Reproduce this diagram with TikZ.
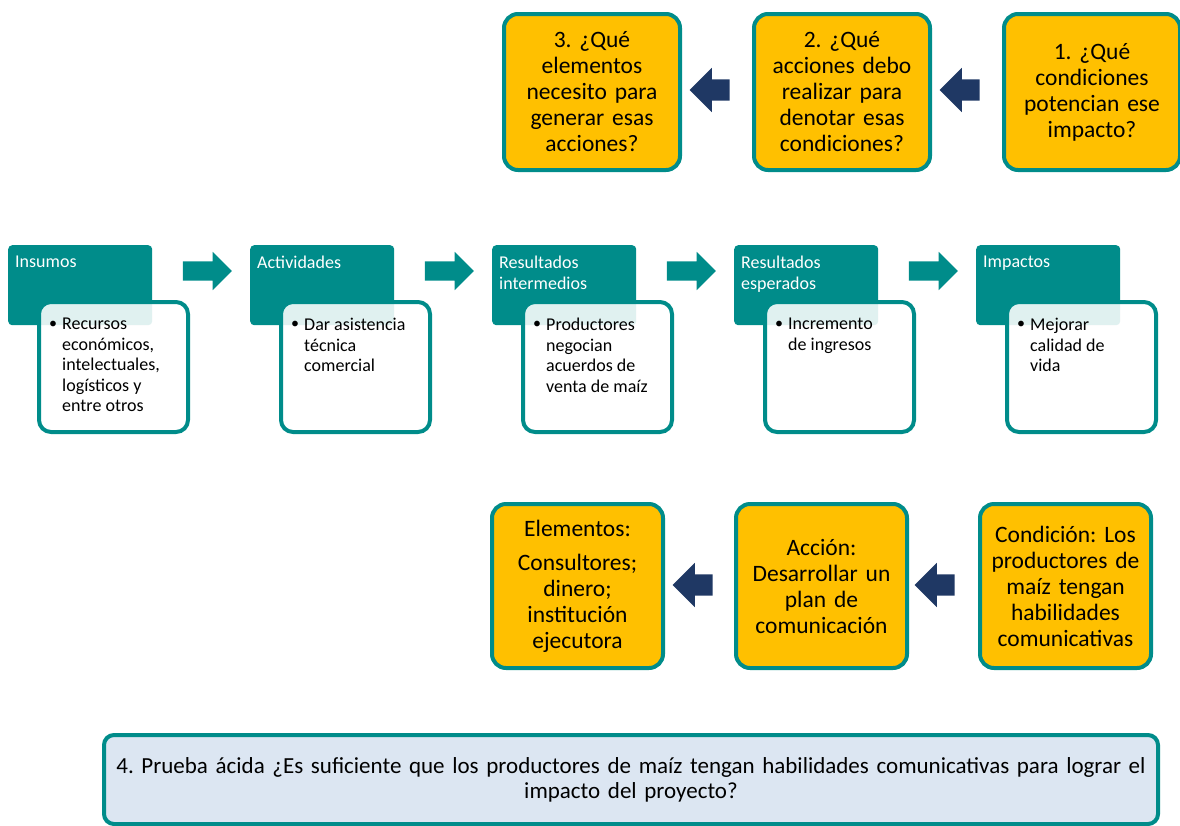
\documentclass[tikz,border=0pt]{standalone}
\usepackage{fontspec}
\setmainfont{Carlito}
\usetikzlibrary{shapes.arrows}
\frenchspacing

\definecolor{verde}{HTML}{008C8A}
\definecolor{oro}{HTML}{FFC000}
\definecolor{marino}{HTML}{1F3864}
\definecolor{celeste}{HTML}{DCE6F2}

\begin{document}
\begin{tikzpicture}[x=1pt,y=-1pt,
	pregunta/.style={draw=verde, line width=4pt, fill=oro, rounded corners=14pt, anchor=north west, minimum width=176pt, minimum height=156pt, text width=168pt, align=center, inner sep=0pt, font=\fontsize{23.5}{26}\selectfont},
	respuesta/.style={pregunta, minimum width=171pt, minimum height=164pt},
	cabeza/.style={fill=verde, rounded corners=4pt, anchor=north west, minimum width=144pt, minimum height=80pt, inner sep=0pt},
	titulo/.style={anchor=north west, inner sep=0pt, align=left, text=white, font=\fontsize{18}{20.5}\selectfont},
	caja/.style={draw=verde, line width=4pt, fill=white, fill opacity=0.88, rounded corners=12pt, anchor=north west, minimum width=149pt, minimum height=130pt, inner sep=0pt},
	texto/.style={anchor=north west, inner sep=0pt, align=left, font=\fontsize{18}{20.5}\selectfont},
	punto/.style={inner sep=0pt, font=\fontsize{16}{20}\selectfont},
	flechaizq/.style={single arrow, fill=marino, shape border rotate=180, minimum height=40pt, inner sep=10.5pt, single arrow head extend=11.5pt},
	flechader/.style={single arrow, fill=verde, minimum height=49pt, inner sep=9.5pt, single arrow head extend=9.5pt}]

	\useasboundingbox (0,0) rectangle (1180,825);

	% preguntas
	\node[pregunta] (p3) at (502,12) {3. ¿Qué\\elementos\\necesito para\\generar esas\\acciones?};
	\node[pregunta] (p2) at (752,12) {2. ¿Qué\\acciones debo\\realizar para\\denotar esas\\condiciones?};
	\node[pregunta] (p1) at (1002,12) {1. ¿Qué\\condiciones\\potencian ese\\impacto?};
	\node[flechaizq] (f21) at (715,90) {};
	\node[flechaizq] (f32) at (965,90) {};

	% cadena de resultados
	\node[cabeza] (ins) at (8,245) {};
	\node[titulo] (tins) at (15,256) {Insumos};
	\node[caja] (cins) at (37,300) {};
	\node[punto] (bins) at (53,325) {\textbullet};
	\node[texto] (xins) at (62,318) {Recursos\\económicos,\\intelectuales,\\logísticos y\\entre otros};

	\node[cabeza] (act) at (250,245) {};
	\node[titulo] (tact) at (257,256) {Actividades};
	\node[caja] (cact) at (279,300) {};
	\node[punto] (bact) at (295,325) {\textbullet};
	\node[texto] (xact) at (304,318) {Dar asistencia\\técnica\\comercial};

	\node[cabeza] (rin) at (492,245) {};
	\node[titulo] (trin) at (499,256) {Resultados\\intermedios};
	\node[caja] (crin) at (521,300) {};
	\node[punto] (brin) at (537,325) {\textbullet};
	\node[texto] (xrin) at (546,318) {Productores\\negocian\\acuerdos de\\venta de maíz};

	\node[cabeza] (res) at (734,245) {};
	\node[titulo] (tres) at (741,256) {Resultados\\esperados};
	\node[caja] (cres) at (763,300) {};
	\node[punto] (bres) at (779,325) {\textbullet};
	\node[texto] (xres) at (788,318) {Incremento\\de ingresos};

	\node[cabeza] (imp) at (976,245) {};
	\node[titulo] (timp) at (983,256) {Impactos};
	\node[caja] (cimp) at (1005,300) {};
	\node[punto] (bimp) at (1021,325) {\textbullet};
	\node[texto] (ximp) at (1030,318) {Mejorar\\calidad de\\vida};

	\node[flechader] (a1) at (202.5,271) {};
	\node[flechader] (a2) at (444.5,271) {};
	\node[flechader] (a3) at (686.5,271) {};
	\node[flechader] (a4) at (928.5,271) {};

	% respuestas
	\node[respuesta] (elem) at (490,502) {Elementos:\\[8pt]Consultores;\\dinero;\\institución\\ejecutora};
	\node[respuesta] (acc) at (734,502) {Acción:\\Desarrollar un\\plan de\\comunicación};
	\node[respuesta] (cond) at (978,502) {Condición: Los\\productores de\\maíz tengan\\habilidades\\comunicativas};
	\node[flechaizq] (g21) at (698,585) {};
	\node[flechaizq] (g32) at (940,585) {};

	% prueba
	\node[draw=verde, line width=4pt, fill=celeste, rounded corners=10pt, anchor=north west, minimum width=1054pt, minimum height=89pt, text width=1050pt, align=center, inner sep=0pt, font=\fontsize{23}{25}\selectfont] (prueba) at (102,733) {4. Prueba ácida ¿Es suficiente que los productores de maíz tengan habilidades comunicativas para lograr el\\impacto del proyecto?};

\end{tikzpicture}
\end{document}
